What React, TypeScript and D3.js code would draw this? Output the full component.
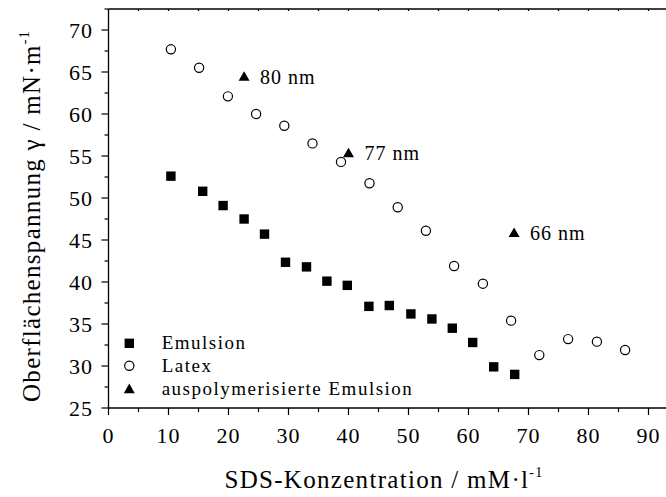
import React from "react";
import * as d3 from "d3";

const emulsionX = [10.4, 15.7, 19.1, 22.6, 26.0, 29.5, 33.0, 36.4, 39.8, 43.4, 46.8, 50.4, 53.9, 57.3, 60.7, 64.2, 67.7];
const emulsionY = [52.6, 50.8, 49.1, 47.5, 45.7, 42.35, 41.8, 40.1, 39.6, 37.1, 37.2, 36.2, 35.6, 34.5, 32.8, 29.9, 29.0];

const latexX = [10.4, 15.1, 19.9, 24.6, 29.3, 34.0, 38.75, 43.5, 48.2, 52.9, 57.6, 62.4, 67.1, 71.8, 76.6, 81.4, 86.1];
const latexY = [67.7, 65.5, 62.1, 60.0, 58.6, 56.5, 54.3, 51.75, 48.9, 46.1, 41.9, 39.8, 35.4, 31.3, 33.2, 32.9, 31.9];

const polyX = [22.6, 40.0, 67.6];
const polyY = [64.4, 55.3, 45.8];
const polyLabels = ["80 nm", "77 nm", "66 nm"];

const xTicks = [0, 10, 20, 30, 40, 50, 60, 70, 80, 90];
const yTicks = [25, 30, 35, 40, 45, 50, 55, 60, 65, 70];
const legendLabels = ["Emulsion", "Latex", "auspolymerisierte Emulsion"];

const FONT = '"Liberation Serif", "Times New Roman", serif';
const ts: React.CSSProperties = { fontFamily: FONT };

export default function App() {
  const W = 666, H = 497;
  const x = d3.scaleLinear().domain([0, 95]).range([108.5, 678.5]);
  const y = d3.scaleLinear().domain([25, 72.5]).range([408, 9]);
  const xMinor = d3.range(0, 96, 5);
  const yMinor = d3.range(25, 72.6, 2.5);

  const tri = (cx: number, cy: number, s = 11) => {
    const h = s * 0.87;
    return `M${cx},${cy - h * 0.6} L${cx + s / 2},${cy + h * 0.4} L${cx - s / 2},${cy + h * 0.4} Z`;
  };

  const legendY = [343.3, 365.7, 389.3];

  return (
    <div style={{ position: "fixed", left: 0, top: 0 }}>
      <svg width={W} height={H} style={{ display: "block", background: "#fff", fontFamily: FONT }}>
        <line x1={x(0)} x2={W + 20} y1={y(25)} y2={y(25)} stroke="#000" strokeWidth={1.3} />
        <line x1={x(0)} x2={W + 20} y1={y(72.5)} y2={y(72.5)} stroke="#000" strokeWidth={1.3} />
        <line x1={x(0)} x2={x(0)} y1={y(25)} y2={y(72.5)} stroke="#000" strokeWidth={1.3} />

        {xMinor.map((v) => {
          const major = v % 10 === 0;
          return (
            <g key={"xt" + v}>
              <line x1={x(v)} x2={x(v)} y1={y(25)} y2={y(25) + (major ? 7 : 4)} stroke="#000" strokeWidth={1.2} />
              <line x1={x(v)} x2={x(v)} y1={y(72.5)} y2={y(72.5) + 2} stroke="#000" strokeWidth={1.2} />
            </g>
          );
        })}
        {xTicks.map((v) => (
          <text key={"xl" + v} x={x(v)} y={443} fontSize={22} textAnchor="middle" letterSpacing={1} style={ts}>
            {v}
          </text>
        ))}

        {yMinor.map((v) => {
          const major = Math.abs(v % 5) < 1e-6;
          return (
            <line key={"yt" + v} x1={x(0) - (major ? 7 : 4)} x2={x(0)} y1={y(v)} y2={y(v)} stroke="#000" strokeWidth={1.2} />
          );
        })}
        {yTicks.map((v) => (
          <text key={"yl" + v} x={93} y={y(v) + 7.5} fontSize={22} textAnchor="end" letterSpacing={1} style={ts}>
            {v}
          </text>
        ))}

        <text x={384} y={488} fontSize={25} textAnchor="middle" letterSpacing={1.3} style={ts}>
          SDS-Konzentration / mM·l
          <tspan dy={-11} fontSize={14}>-1</tspan>
        </text>
        <text transform={`translate(40, 216) rotate(-90)`} fontSize={25} textAnchor="middle" letterSpacing={1.3} style={ts}>
          Oberflächenspannung γ / mN·m
          <tspan dy={-11} fontSize={14}>-1</tspan>
        </text>

        {emulsionX.map((v, i) => (
          <rect key={"e" + i} x={x(v) - 4.7} y={y(emulsionY[i]) - 4.7} width={9.4} height={9.4} fill="#000" />
        ))}
        {latexX.map((v, i) => (
          <circle key={"l" + i} cx={x(v)} cy={y(latexY[i])} r={4.6} fill="#fff" stroke="#000" strokeWidth={1.2} />
        ))}
        {polyX.map((v, i) => (
          <g key={"p" + i}>
            <path d={tri(x(v), y(polyY[i]))} fill="#000" />
            <text x={x(v) + 16} y={y(polyY[i]) + 7} fontSize={20} letterSpacing={1} style={ts}>
              {polyLabels[i]}
            </text>
          </g>
        ))}

        <rect x={129.3 - 4.7} y={legendY[0] - 4.7} width={9.4} height={9.4} fill="#000" />
        <circle cx={129.3} cy={legendY[1]} r={4.6} fill="#fff" stroke="#000" strokeWidth={1.2} />
        <path d={tri(129.3, legendY[2])} fill="#000" />
        {legendLabels.map((t, i) => (
          <text key={"lg" + i} x={161.7} y={legendY[i] + 6} fontSize={19} letterSpacing={1.5} style={ts}>
            {t}
          </text>
        ))}
      </svg>
    </div>
  );
}
